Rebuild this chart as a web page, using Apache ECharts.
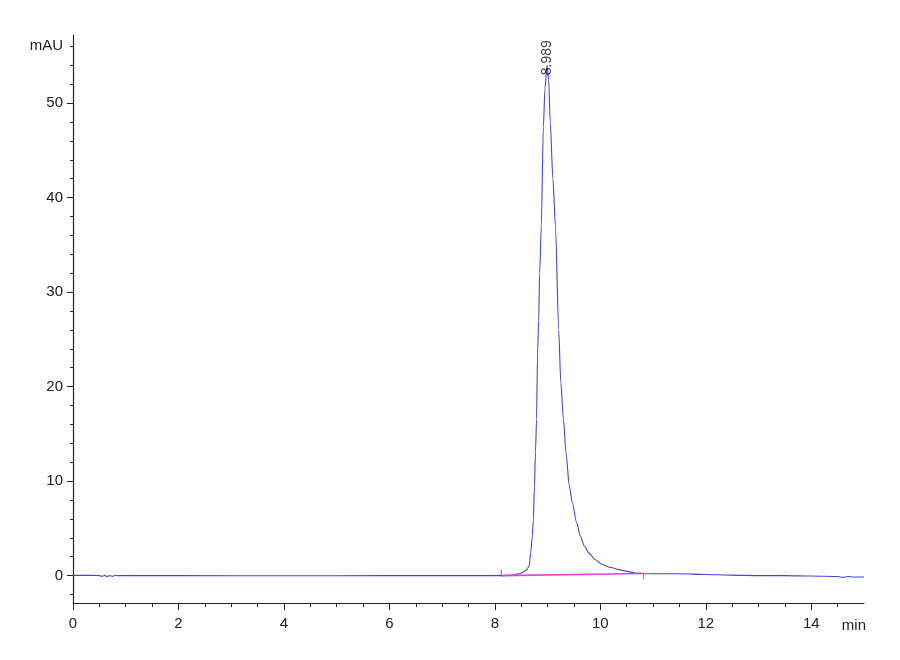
<!DOCTYPE html>
<html>
<head>
<meta charset="utf-8">
<title>Chromatogram</title>
<script src="https://cdn.jsdelivr.net/npm/echarts@6/dist/echarts.min.js"></script>
<style>
  html, body { margin: 0; padding: 0; background: #fff; }
  #chart { width: 900px; height: 660px; }
</style>
</head>
<body>
<div id="chart"></div>
<script>
// retention time (min) and detector signal (mAU)
var times = [0, 0.2, 0.4, 0.5, 0.55, 0.6, 0.65, 0.7, 0.75, 0.8, 0.85, 1.0, 2, 4, 6, 7, 8.0,
  8.14, 8.3, 8.45, 8.52, 8.6, 8.65, 8.68, 8.71, 8.73, 8.75, 8.77, 8.79, 8.81, 8.83, 8.85,
  8.88, 8.92, 8.95, 8.99, 9.02, 9.05, 9.10, 9.15, 9.21, 9.25, 9.30, 9.35, 9.41, 9.47, 9.55,
  9.62, 9.70, 9.78, 9.90, 10.03, 10.2, 10.35, 10.5, 10.66, 10.85, 11.0, 11.5, 12.0, 12.5,
  13.0, 13.5, 14.0, 14.5, 14.6, 14.7, 14.8, 15];
var signal = [0.02, 0.03, 0.02, 0.0, -0.08, 0.02, -0.1, 0.0, -0.08, 0.02, 0.0, 0.0, 0.0, -0.02, 0.0, 0.0, 0.0,
  0.0, 0.05, 0.18, 0.3, 0.6, 1.0, 2.4, 4.2, 5.9, 9.4, 13, 16.5, 23.5, 27, 32,
  37, 47.5, 51.5, 54.0, 52.5, 48, 42, 36.9, 26, 20.5, 16.5, 13, 9.5, 7.7, 5.6,
  4.2, 3.1, 2.4, 1.7, 1.2, 0.85, 0.63, 0.45, 0.28, 0.2, 0.2, 0.2, 0.12, 0.05,
  0.0, 0.0, -0.05, -0.1, -0.2, -0.1, -0.15, -0.15];

// integration baseline
var baseTimes = [8.12, 10.82];
var baseValues = [0.0, 0.22];

// peak annotation
var peakTime = 8.989;
var peakHeight = 54.0;
var peakLabel = "8.989";

// axis ticks
var xMajor = [0, 2, 4, 6, 8, 10, 12, 14];
var xMinor = [0.5, 1, 1.5, 2.5, 3, 3.5, 4.5, 5, 5.5, 6.5, 7, 7.5, 8.5, 9, 9.5,
  10.5, 11, 11.5, 12.5, 13, 13.5, 14.5];
var yMajor = [0, 10, 20, 30, 40, 50];
var yMinor = [-2, 2, 4, 6, 8, 12, 14, 16, 18, 22, 24, 26, 28, 32, 34, 36, 38,
  42, 44, 46, 48, 52, 54, 56];
var yUnitAt = 56;

function pairs(xs, ys) {
  return xs.map(function (x, i) { return [x, ys[i]]; });
}

var font = "'Liberation Sans', Arial, sans-serif";
var axisColor = "#222";

var chart = echarts.init(document.getElementById("chart"));

chart.setOption({
  animation: false,
  backgroundColor: "#fff",
  grid: { left: 73, right: 36, top: 35, bottom: 57, containLabel: false },
  xAxis: [
    {
      type: "value",
      min: 0,
      max: 15,
      name: "min",
      nameLocation: "end",
      nameGap: 2,
      nameTextStyle: {
        fontFamily: font, fontSize: 15, color: "#222",
        align: "right", verticalAlign: "top", padding: [15, 0, 0, 0],
      },
      axisLine: { onZero: false, lineStyle: { color: axisColor, width: 1.2 } },
      axisTick: { customValues: xMajor, length: 7, lineStyle: { color: axisColor } },
      axisLabel: {
        customValues: xMajor, margin: 13,
        fontFamily: font, fontSize: 15, color: "#222",
      },
      splitLine: { show: false },
    },
    {
      type: "value",
      min: 0,
      max: 15,
      position: "bottom",
      axisLine: { show: false, onZero: false },
      axisTick: { customValues: xMinor, length: 4, lineStyle: { color: axisColor } },
      axisLabel: { show: false },
      splitLine: { show: false },
    },
  ],
  yAxis: [
    {
      type: "value",
      min: -2.9,
      max: 57.2,
      axisLine: { show: true, onZero: false, lineStyle: { color: axisColor, width: 1.2 } },
      axisTick: { show: true, customValues: yMajor, length: 6, lineStyle: { color: axisColor } },
      axisLabel: {
        customValues: yMajor.concat([yUnitAt]),
        margin: 10,
        fontFamily: font, fontSize: 15, color: "#222",
        formatter: function (v) { return v === yUnitAt ? "mAU" : String(v); },
      },
      splitLine: { show: false },
    },
    {
      type: "value",
      min: -2.9,
      max: 57.2,
      position: "left",
      axisLine: { show: false, onZero: false },
      axisTick: { show: true, customValues: yMinor, length: 3, lineStyle: { color: axisColor } },
      axisLabel: { show: false },
      splitLine: { show: false },
    },
  ],
  series: [
    {
      type: "line",
      data: pairs(times, signal),
      showSymbol: false,
      symbol: "none",
      smooth: 0.25,
      smoothMonotone: "x",
      lineStyle: { color: "#4444dc", width: 1.1 },
      z: 2,
    },
    {
      type: "line",
      data: pairs(baseTimes, baseValues),
      showSymbol: false,
      symbol: "none",
      lineStyle: { color: "#e443d8", width: 1.6 },
      z: 3,
    },
    {
      type: "scatter",
      data: [pairs(baseTimes, baseValues)[0]],
      symbol: "rect",
      symbolSize: [1, 6],
      symbolOffset: [0, -3],
      itemStyle: { color: "#444" },
      z: 4,
    },
    {
      type: "scatter",
      data: [pairs(baseTimes, baseValues)[1]],
      symbol: "rect",
      symbolSize: [1, 6],
      symbolOffset: [0, 3],
      itemStyle: { color: "#777" },
      z: 4,
    },
    {
      type: "scatter",
      data: [[peakTime, peakHeight]],
      symbolSize: 0.1,
      label: {
        show: true,
        formatter: peakLabel,
        position: [0, 10],
        rotate: 90,
        align: "left",
        verticalAlign: "middle",
        fontFamily: font,
        fontSize: 14,
        color: "#111",
      },
      z: 5,
    },
  ],
});
</script>
</body>
</html>
